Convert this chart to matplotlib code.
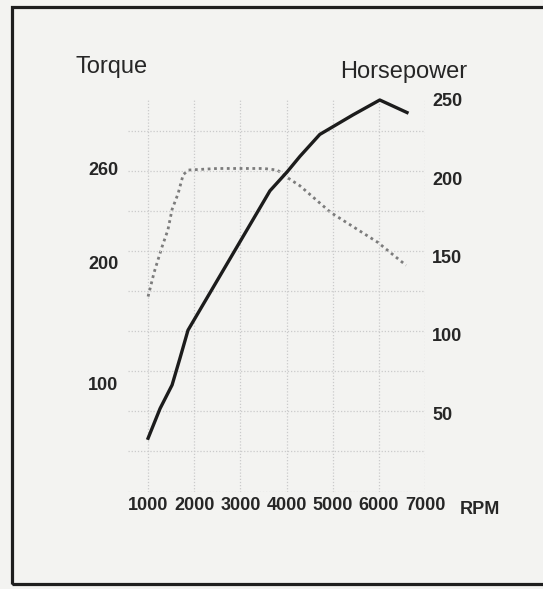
import numpy as np
import matplotlib
matplotlib.use('Agg')
import matplotlib.pyplot as plt
from matplotlib.ticker import MultipleLocator
from matplotlib.patches import Rectangle

plt.rcParams['font.family'] = ['Liberation Sans', 'DejaVu Sans']

# data
torque_rpm = [1000, 1130, 1300, 1430, 1520, 1650, 1760, 1870, 2500, 3000, 3500, 3800,
              4030, 4290, 4960, 5980, 6590]
torque_val = [172, 192, 210, 221, 234, 244, 256, 259, 260, 260, 260, 259,
              254, 249, 232, 213, 198]

hp_rpm = [1000, 1260, 1520, 1690, 1865, 3640, 4010, 4290, 4720, 5440, 6020, 6610]
hp_val = [34, 53, 68, 85, 103, 192, 204, 214, 228, 240.5, 250, 242]

rpm_ticks = [1000, 2000, 3000, 4000, 5000, 6000, 7000]
torque_ticks = [100, 200, 260]
hp_ticks = [50, 100, 150, 200, 250]

# the torque axis on the original is not evenly spaced; calibrate it to the
# horsepower axis using where its labels sit
torque_anchor = [-500, 100, 200, 260, 1000]
torque_pos = [-388.9, 68.9, 145.2, 205.2, 945.2]

def fwd(t):
    return np.interp(t, torque_anchor, torque_pos)

def inv(p):
    return np.interp(p, torque_pos, torque_anchor)

W, H = 543, 589
paper = '#f3f3f1'
ink = '#262626'
grid_col = '#cbcbcb'

fig = plt.figure(figsize=(W / 100, H / 100), dpi=100)
fig.patch.set_facecolor(paper)

# frame of the scanned page
fig.patches.append(Rectangle((12 / W, 5 / H), 1.0, 577 / H, transform=fig.transFigure,
                             fill=False, lw=2.3, edgecolor='#1e1e1e'))

hp_top = 248.7
ax = fig.add_axes([128 / W, 1 - 491.5 / H, 297 / W, 391.5 / H])
ax.set_facecolor('none')
ax.set_yscale('function', functions=(fwd, inv))
ax.set_xlim(565, 7000)
ax.set_ylim(inv(0), inv(hp_top))

hp = ax.twinx()
hp.set_ylim(0, hp_top)

for a in (ax, hp):
    for s in a.spines.values():
        s.set_visible(False)
    a.tick_params(length=0, colors=ink)

# grid
ax.set_xticks(rpm_ticks)
ax.set_xticklabels([str(r) for r in rpm_ticks], fontsize=13, fontweight='bold')
ax.tick_params(axis='x', pad=4)
ax.grid(axis='x', color=grid_col, ls=(0, (1, 1.5)), lw=0.9)
hp.yaxis.set_minor_locator(MultipleLocator(25.6))
hp.tick_params(which='minor', length=0)
hp.grid(axis='y', which='minor', color=grid_col, ls=(0, (1, 1.5)), lw=0.9)

ax.set_yticks(torque_ticks)
ax.set_yticklabels([str(t) for t in torque_ticks], fontsize=13, fontweight='bold')
ax.yaxis.set_minor_locator(plt.NullLocator())
ax.tick_params(axis='y', pad=7)
hp.set_yticks(hp_ticks)
hp.set_yticklabels([str(h) for h in hp_ticks], fontsize=13, fontweight='bold')
hp.tick_params(axis='y', which='major', pad=5)

# curves
ax.plot(torque_rpm, torque_val, color='#7c7c7c', lw=2.0, ls=(0, (1, 1.3)),
        clip_on=False, zorder=3)
hp.plot(hp_rpm, hp_val, color='#1c1c1c', lw=2.4, solid_joinstyle='round',
        clip_on=False, zorder=4)

fig.text(75 / W, 1 - 73 / H, 'Torque', ha='left', va='baseline', fontsize=17, color=ink)
fig.text(340 / W, 1 - 78 / H, 'Horsepower', ha='left', va='baseline', fontsize=17, color=ink)
fig.text(460 / W, 1 - 514 / H, 'RPM', ha='left', va='baseline', fontsize=13,
         fontweight='bold', color=ink)

fig.savefig('out.png', dpi=100, facecolor=paper)
